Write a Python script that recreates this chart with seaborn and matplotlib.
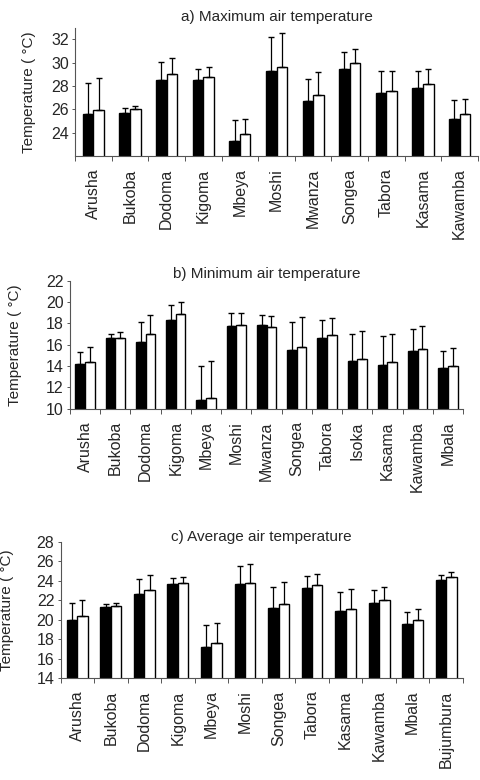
import numpy as np
import pandas as pd
import matplotlib
matplotlib.use("Agg")
import matplotlib.pyplot as plt
import seaborn as sns

# ---------------- data ----------------
stations_a = ['Arusha', 'Bukoba', 'Dodoma', 'Kigoma', 'Mbeya', 'Moshi', 'Mwanza',
              'Songea', 'Tabora', 'Kasama', 'Kawamba']
max_black = [25.6, 25.7, 28.55, 28.5, 23.3, 29.25, 26.7, 29.5, 27.4, 27.85, 25.2]
max_white = [25.95, 26.0, 29.0, 28.75, 23.85, 29.65, 27.2, 30.0, 27.6, 28.2, 25.6]
max_black_top = [28.3, 26.15, 30.1, 29.5, 25.05, 32.2, 28.6, 30.95, 29.25, 29.3, 26.8]
max_white_top = [28.65, 26.3, 30.4, 29.6, 25.2, 32.55, 29.2, 31.2, 29.3, 29.45, 26.9]

stations_b = ['Arusha', 'Bukoba', 'Dodoma', 'Kigoma', 'Mbeya', 'Moshi', 'Mwanza',
              'Songea', 'Tabora', 'Isoka', 'Kasama', 'Kawamba', 'Mbala']
min_black = [14.2, 16.6, 16.3, 18.35, 10.8, 17.8, 17.85, 15.5, 16.65, 14.45, 14.1, 15.4, 13.85]
min_white = [14.4, 16.65, 17.0, 18.85, 11.05, 17.85, 17.7, 15.8, 16.9, 14.65, 14.4, 15.6, 14.0]
min_black_top = [15.35, 17.05, 18.15, 19.7, 14.0, 18.95, 18.75, 18.15, 18.35, 17.05, 16.85, 17.5, 15.45]
min_white_top = [15.75, 17.2, 18.8, 20.0, 14.45, 18.95, 18.65, 18.6, 18.55, 17.3, 17.05, 17.8, 15.65]

stations_c = ['Arusha', 'Bukoba', 'Dodoma', 'Kigoma', 'Mbeya', 'Moshi', 'Songea',
              'Tabora', 'Kasama', 'Kawamba', 'Mbala', 'Bujumbura']
avg_black = [20.0, 21.35, 22.6, 23.65, 17.15, 23.65, 21.25, 23.25, 20.85, 21.7, 19.6, 24.05]
avg_white = [20.35, 21.45, 23.1, 23.8, 17.6, 23.8, 21.6, 23.55, 21.15, 22.0, 19.95, 24.4]
avg_black_top = [21.7, 21.6, 24.2, 24.25, 19.5, 25.5, 23.4, 24.5, 22.85, 23.05, 20.8, 24.6]
avg_white_top = [22.05, 21.7, 24.65, 24.4, 19.7, 25.7, 23.9, 24.75, 23.15, 23.4, 21.15, 24.95]

titles = ['a) Maximum air temperature', 'b) Minimum air temperature', 'c) Average air temperature']
ylabel = 'Temperature ( \u00b0C)'

# ---------------- style ----------------
sns.set_style('white')
plt.rcParams['font.family'] = ['Liberation Sans', 'DejaVu Sans']
plt.rcParams['font.size'] = 11

W, H = 480, 780
fig = plt.figure(figsize=(W / 100, H / 100), dpi=100)


def px_axes(left, right, top, bottom):
    return fig.add_axes([left / W, 1 - bottom / H, (right - left) / W, (bottom - top) / H])


def panel(ax, stations, black, white, btop, wtop, title, ylim, yticks, width, ylab_x, title_pad):
    n = len(stations)
    df = pd.DataFrame({
        'station': stations + stations,
        'value': black + white,
        'series': ['s1'] * n + ['s2'] * n,
    })
    sns.barplot(data=df, x='station', y='value', hue='series', order=stations,
                palette=['black', 'white'], saturation=1, edgecolor='black',
                linewidth=1.0, width=width, errorbar=None, legend=False, ax=ax)
    for cont, tops in zip(ax.containers, [btop, wtop]):
        xs = np.array([b.get_x() + b.get_width() / 2 for b in cont])
        ys = np.array([b.get_height() for b in cont])
        up = np.array(tops) - ys
        ax.errorbar(xs, ys, yerr=[np.zeros_like(up), up], fmt='none', ecolor='black',
                    elinewidth=0.9, capsize=2.2, capthick=1.0, zorder=3)
    ax.set_ylim(*ylim)
    ax.set_xlim(-0.5, n - 0.5)
    ax.set_yticks(yticks)
    ax.set_yticklabels([str(t) for t in yticks], fontsize=11.5)
    ax.set_xticks(range(n))
    ax.set_xticklabels(stations, rotation=90, fontsize=11.5)
    ax.set_xticks(np.arange(-0.5, n, 1.0), minor=True)
    ax.tick_params(axis='x', which='major', length=0, pad=9)
    ax.tick_params(axis='x', which='minor', length=3.5, width=0.7, color='#555555', direction='out', bottom=True)
    ax.tick_params(axis='y', which='major', length=2.5, width=0.7, color='#555555', direction='out', left=True, pad=2)
    ax.set_xlabel('')
    ax.set_ylabel(ylabel, fontsize=11)
    ax.yaxis.set_label_coords(ylab_x, 0.5)
    ax.set_title(title, fontsize=11, pad=title_pad)
    for s in ['top', 'right']:
        ax.spines[s].set_visible(False)
    for s in ['left', 'bottom']:
        ax.spines[s].set_color('#555555')
        ax.spines[s].set_linewidth(0.8)


ax_a = px_axes(75, 478, 27.7, 156)
panel(ax_a, stations_a, max_black, max_white, max_black_top, max_white_top,
      titles[0], (22, 33), [24, 26, 28, 30, 32], 0.58, -(75 - 36) / 403, 5)

ax_b = px_axes(70, 463, 280.7, 408.7)
panel(ax_b, stations_b, min_black, min_white, min_black_top, min_white_top,
      titles[1], (10, 22), [10, 12, 14, 16, 18, 20, 22], 0.64, -(70 - 22.5) / 393, 2)

ax_c = px_axes(60.5, 463, 542, 678)
panel(ax_c, stations_c, avg_black, avg_white, avg_black_top, avg_white_top,
      titles[2], (14, 28), [14, 16, 18, 20, 22, 24, 26, 28], 0.62, -(60.5 - 14) / 402.5, 1)

fig.savefig('out.png', dpi=100)
